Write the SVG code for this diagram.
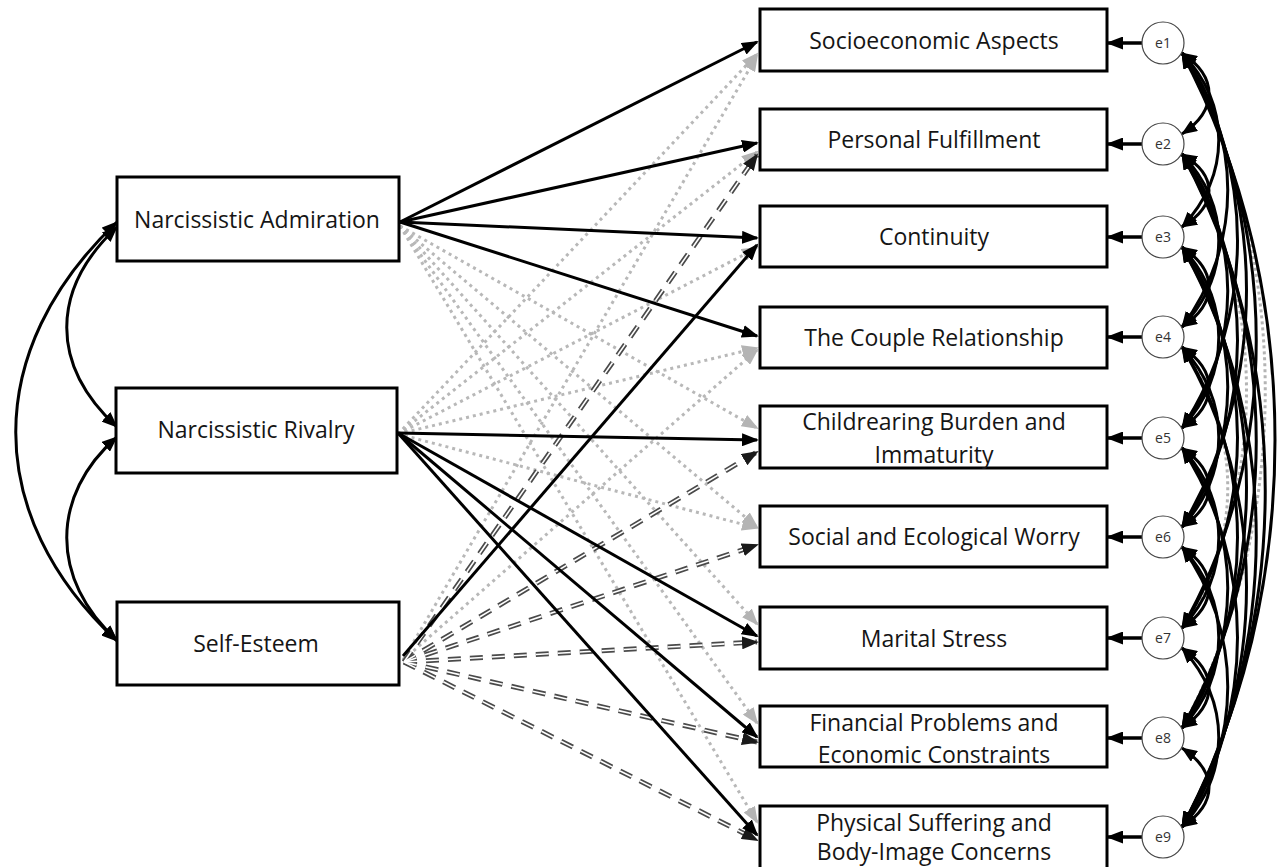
<svg xmlns="http://www.w3.org/2000/svg" width="1279" height="867" viewBox="0 0 1279 867">
<defs>
<style>
.box{fill:#fff;stroke:#000;stroke-width:3}
.err{fill:#fff;stroke:#444;stroke-width:1.2}
.t{font-family:"Open Sans","Noto Sans","Liberation Sans",sans-serif;font-size:23px;fill:#151515;text-anchor:middle}
.et{font-family:"Open Sans","Noto Sans","Liberation Sans",sans-serif;font-size:14px;fill:#333;text-anchor:middle}
.blk{fill:none;stroke:#000;stroke-width:3;marker-end:url(#ab)}
.dot{fill:none;stroke:#b8b8b8;stroke-width:3;stroke-dasharray:3 4;marker-end:url(#ag)}
.dd{fill:none;stroke:#4a4a4a;stroke-width:5;stroke-dasharray:13 9}
.ddw{fill:none;stroke:#fff;stroke-width:1.6;stroke-dasharray:13 9}
.mk{fill:none;stroke:none;marker-end:url(#ad)}
.cov{fill:none;stroke:#000;stroke-width:3;marker-start:url(#cb);marker-end:url(#cb)}
.covd{fill:none;stroke:#b4b4b4;stroke-width:3;stroke-dasharray:3 3;marker-start:url(#cg);marker-end:url(#cg)}
.lc{fill:none;stroke:#000;stroke-width:3;marker-start:url(#cb);marker-end:url(#cb)}
.ea{fill:none;stroke:#000;stroke-width:3.5;marker-end:url(#ab)}
</style>
<marker id="ab" markerUnits="userSpaceOnUse" markerWidth="17" markerHeight="13" refX="15" refY="6.5" orient="auto"><path d="M0,0 L17,6.5 L0,13 z" fill="#000"/></marker>
<marker id="ag" markerUnits="userSpaceOnUse" markerWidth="17" markerHeight="13" refX="15" refY="6.5" orient="auto"><path d="M0,0 L17,6.5 L0,13 z" fill="#b4b4b4"/></marker>
<marker id="ad" markerUnits="userSpaceOnUse" markerWidth="17" markerHeight="13" refX="15" refY="6.5" orient="auto"><path d="M0,0 L17,6.5 L0,13 z" fill="#1a1a1a"/></marker>
<marker id="cb" markerUnits="userSpaceOnUse" markerWidth="16" markerHeight="13" refX="15" refY="6.5" orient="auto-start-reverse"><path d="M0,0 L16,6.5 L0,13 z" fill="#000"/></marker>
<marker id="cg" markerUnits="userSpaceOnUse" markerWidth="16" markerHeight="13" refX="15" refY="6.5" orient="auto-start-reverse"><path d="M0,0 L16,6.5 L0,13 z" fill="#b4b4b4"/></marker>
</defs>
<rect width="1279" height="867" fill="#fff"/>
<g id="connectors">
<!-- left covariances -->
<path class="lc" d="M117,227 C50,290 50,365 117,427"/>
<path class="lc" d="M117,222 C-18,350 -18,515 117,641"/>
<path class="lc" d="M117,437 C50,495 50,580 117,640"/>
<!-- dotted (non-significant) paths -->
<path class="dot" d="M400,226 L757,428"/>
<path class="dot" d="M400,226 L757,527"/>
<path class="dot" d="M400,226 L757,624"/>
<path class="dot" d="M400,226 L757,723"/>
<path class="dot" d="M400,226 L757,822"/>
<path class="dot" d="M398,434 L757,54"/>
<path class="dot" d="M398,434 L757,152"/>
<path class="dot" d="M398,434 L757,248"/>
<path class="dot" d="M398,434 L757,348"/>
<path class="dot" d="M398,434 L757,528"/>
<path class="dot" d="M403,660 L757,56"/>
<path class="dot" d="M403,660 L757,350"/>
<!-- dashed double paths -->
<path class="dd" d="M404,662 L757,155"/>
<path class="dd" d="M404,662 L757,452"/>
<path class="dd" d="M404,662 L757,545"/>
<path class="dd" d="M404,662 L757,642"/>
<path class="dd" d="M404,662 L757,742"/>
<path class="dd" d="M404,662 L757,840"/>
<path class="ddw" d="M404,662 L757,155"/>
<path class="ddw" d="M404,662 L757,452"/>
<path class="ddw" d="M404,662 L757,545"/>
<path class="ddw" d="M404,662 L757,642"/>
<path class="ddw" d="M404,662 L757,742"/>
<path class="ddw" d="M404,662 L757,840"/>
<path class="mk" d="M404,662 L757,155"/>
<path class="mk" d="M404,662 L757,452"/>
<path class="mk" d="M404,662 L757,545"/>
<path class="mk" d="M404,662 L757,642"/>
<path class="mk" d="M404,662 L757,742"/>
<path class="mk" d="M404,662 L757,840"/>
<!-- solid significant paths -->
<path class="blk" d="M400,222 L757,42"/>
<path class="blk" d="M400,222 L757,143"/>
<path class="blk" d="M400,222 L757,238"/>
<path class="blk" d="M400,222 L757,336"/>
<path class="blk" d="M398,433 L757,440"/>
<path class="blk" d="M398,433 L757,636"/>
<path class="blk" d="M398,433 L757,737"/>
<path class="blk" d="M398,433 L757,835"/>
<path class="blk" d="M403,656 L757,245"/>
<!-- error to indicator -->
<path class="ea" d="M1142,43 L1108,43"/>
<path class="ea" d="M1142,144 L1108,144"/>
<path class="ea" d="M1142,237 L1108,237"/>
<path class="ea" d="M1142,337 L1108,337"/>
<path class="ea" d="M1142,438 L1108,438"/>
<path class="ea" d="M1142,537 L1108,537"/>
<path class="ea" d="M1142,638 L1108,638"/>
<path class="ea" d="M1142,738 L1108,738"/>
<path class="ea" d="M1142,837 L1108,837"/>
<!-- error covariances -->
<path class="covd" d="M1182,347 C1243,431 1243,544 1182,628"/>
<path class="covd" d="M1182,154 C1268,296 1268,486 1182,628"/>
<path class="covd" d="M1182,53 C1293,255 1293,526 1182,728"/>
<path class="cov" d="M1182,53 C1218,77 1218,110 1182,134"/>
<path class="cov" d="M1182,154 C1218,176 1218,205 1182,227"/>
<path class="cov" d="M1182,247 C1218,271 1218,303 1182,327"/>
<path class="cov" d="M1182,347 C1218,371 1218,404 1182,428"/>
<path class="cov" d="M1182,448 C1218,472 1218,503 1182,527"/>
<path class="cov" d="M1182,547 C1218,571 1218,604 1182,628"/>
<path class="cov" d="M1182,648 C1218,672 1218,704 1182,728"/>
<path class="cov" d="M1182,748 C1218,772 1218,803 1182,827"/>
<path class="cov" d="M1182,53 C1231,105 1231,175 1182,227"/>
<path class="cov" d="M1182,154 C1231,206 1231,275 1182,327"/>
<path class="cov" d="M1182,247 C1231,301 1231,374 1182,428"/>
<path class="cov" d="M1182,347 C1231,401 1231,473 1182,527"/>
<path class="cov" d="M1182,448 C1231,502 1231,574 1182,628"/>
<path class="cov" d="M1182,547 C1231,601 1231,674 1182,728"/>
<path class="cov" d="M1182,648 C1231,702 1231,773 1182,827"/>
<path class="cov" d="M1182,53 C1243,135 1243,245 1182,327"/>
<path class="cov" d="M1182,154 C1243,236 1243,346 1182,428"/>
<path class="cov" d="M1182,247 C1243,331 1243,443 1182,527"/>
<path class="cov" d="M1182,448 C1243,532 1243,644 1182,728"/>
<path class="cov" d="M1182,547 C1243,631 1243,743 1182,827"/>
<path class="cov" d="M1182,53 C1256,165 1256,316 1182,428"/>
<path class="cov" d="M1182,154 C1256,266 1256,415 1182,527"/>
<path class="cov" d="M1182,247 C1256,361 1256,514 1182,628"/>
<path class="cov" d="M1182,347 C1256,461 1256,614 1182,728"/>
<path class="cov" d="M1182,448 C1256,562 1256,713 1182,827"/>
<path class="cov" d="M1182,53 C1268,195 1268,385 1182,527"/>
<path class="cov" d="M1182,247 C1268,391 1268,584 1182,728"/>
<path class="cov" d="M1182,347 C1268,491 1268,683 1182,827"/>
<path class="cov" d="M1182,53 C1281,225 1281,456 1182,628"/>
<path class="cov" d="M1182,154 C1281,326 1281,556 1182,728"/>
<path class="cov" d="M1182,247 C1281,421 1281,653 1182,827"/>
<path class="cov" d="M1182,154 C1293,356 1293,625 1182,827"/>
<path class="cov" d="M1182,53 C1306,285 1306,595 1182,827"/>
</g>
<g id="narcissistic-admiration"><rect class="box" x="117" y="177" width="282" height="84"/><text class="t" x="257" y="228">Narcissistic Admiration</text></g>
<g id="narcissistic-rivalry"><rect class="box" x="116" y="388" width="281" height="85"/><text class="t" x="256" y="438">Narcissistic Rivalry</text></g>
<g id="self-esteem"><rect class="box" x="117" y="602" width="282" height="83"/><text class="t" x="256" y="652">Self-Esteem</text></g>
<g id="socioeconomic-aspects"><rect class="box" x="760" y="9" width="347" height="62"/><text class="t" x="934" y="49">Socioeconomic Aspects</text></g>
<g id="personal-fulfillment"><rect class="box" x="760" y="109" width="347" height="61"/><text class="t" x="934" y="148">Personal Fulfillment</text></g>
<g id="continuity"><rect class="box" x="760" y="206" width="347" height="61"/><text class="t" x="934" y="245">Continuity</text></g>
<g id="couple-relationship"><rect class="box" x="760" y="307" width="347" height="61"/><text class="t" x="934" y="346">The Couple Relationship</text></g>
<g id="childrearing-burden"><rect class="box" x="760" y="406" width="347" height="62"/><text class="t" x="934" y="430">Childrearing Burden and</text><text class="t" x="934" y="463">Immaturity</text></g>
<g id="social-ecological-worry"><rect class="box" x="760" y="506" width="347" height="61"/><text class="t" x="934" y="545">Social and Ecological Worry</text></g>
<g id="marital-stress"><rect class="box" x="760" y="607" width="347" height="62"/><text class="t" x="934" y="647">Marital Stress</text></g>
<g id="financial-problems"><rect class="box" x="760" y="706" width="347" height="61"/><text class="t" x="934" y="731">Financial Problems and</text><text class="t" x="934" y="763">Economic Constraints</text></g>
<g id="physical-suffering"><rect class="box" x="760" y="806" width="347" height="66"/><text class="t" x="934" y="831">Physical Suffering and</text><text class="t" x="934" y="860">Body-Image Concerns</text></g>
<g id="e1"><circle class="err" cx="1163" cy="43" r="21"/><text class="et" x="1163" y="48">e1</text></g>
<g id="e2"><circle class="err" cx="1163" cy="144" r="21"/><text class="et" x="1163" y="149">e2</text></g>
<g id="e3"><circle class="err" cx="1163" cy="237" r="21"/><text class="et" x="1163" y="242">e3</text></g>
<g id="e4"><circle class="err" cx="1163" cy="337" r="21"/><text class="et" x="1163" y="342">e4</text></g>
<g id="e5"><circle class="err" cx="1163" cy="438" r="21"/><text class="et" x="1163" y="443">e5</text></g>
<g id="e6"><circle class="err" cx="1163" cy="537" r="21"/><text class="et" x="1163" y="542">e6</text></g>
<g id="e7"><circle class="err" cx="1163" cy="638" r="21"/><text class="et" x="1163" y="643">e7</text></g>
<g id="e8"><circle class="err" cx="1163" cy="738" r="21"/><text class="et" x="1163" y="743">e8</text></g>
<g id="e9"><circle class="err" cx="1163" cy="837" r="21"/><text class="et" x="1163" y="842">e9</text></g>
</svg>
